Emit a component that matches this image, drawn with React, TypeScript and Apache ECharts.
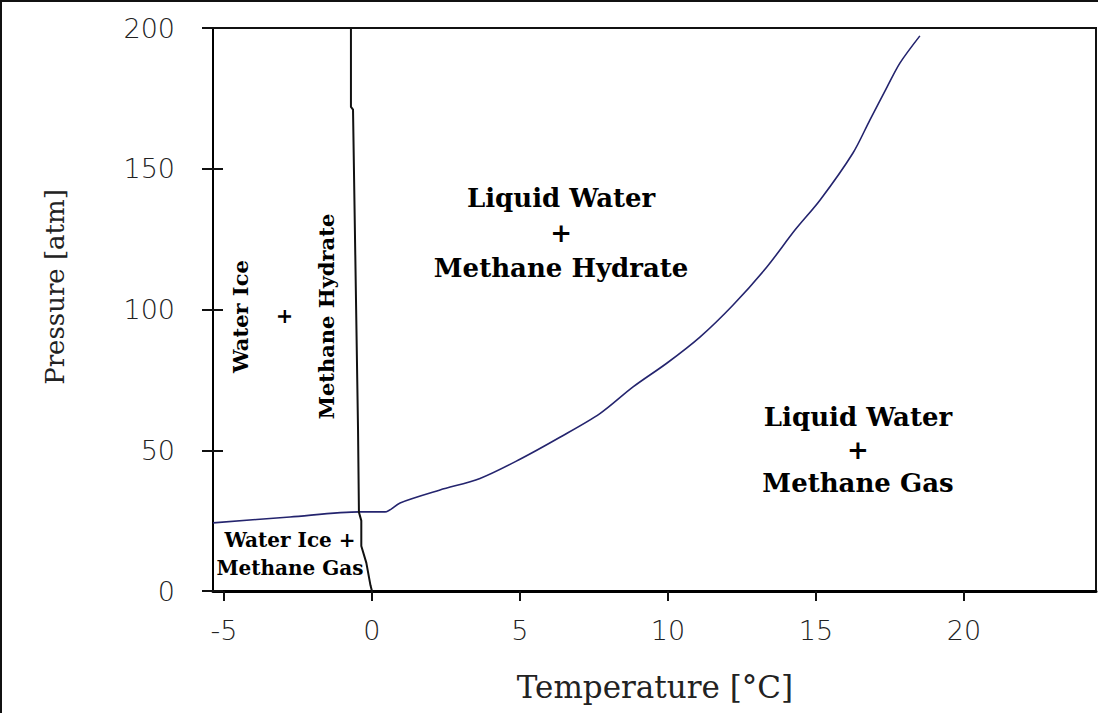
import React, { useEffect, useRef } from "react";
import * as echarts from "echarts";

// Axis ranges and ticks
const xMin = -5.37;
const xMax = 24.46;
const yMin = 0;
const yMax = 200;
const xTickValues = [-5, 0, 5, 10, 15, 20];
const yTickValues = [0, 50, 100, 150, 200];

// Hydrate stability boundary (blue curve)
const hydrateTemp = [-5.37, -2.77, -0.41, 0.44, 0.95, 2.3, 3.65, 5.0, 6.35, 7.7, 8.82, 9.97, 11.08, 12.2, 13.34, 14.29, 15.14, 16.25, 16.82, 17.4, 17.84, 18.51];
const hydratePressure = [24.2, 26.3, 28.1, 28.1, 31.3, 35.9, 40.0, 46.8, 54.6, 63.0, 72.5, 81.0, 90.2, 101.6, 115.1, 128.2, 138.9, 155.6, 167.3, 179.0, 187.6, 197.2];

// Ice melting boundary (black line)
const iceTemp = [-0.71, -0.71, -0.64, -0.47, -0.44, -0.36, -0.36, -0.19, -0.05, 0];
const icePressure = [200, 172, 171, 57, 28, 25, 16, 10, 2, 0];

// Region annotations
const regionLabels = ["Liquid Water\n+\nMethane Hydrate", "Liquid Water\n+\nMethane Gas", "Water Ice\n+\nMethane Hydrate", "Water Ice +\nMethane Gas"];
const regionTemp = [6.39, 16.42, -3.0, -2.77];
const regionPressure = [127.2, 50.1, 97.5, 13.1];

export default function App() {
  const ref = useRef<HTMLDivElement>(null);
  useEffect(() => {
    document.body.style.margin = "0";
    document.body.style.overflow = "hidden";
    const chart = echarts.init(ref.current!, null, { renderer: "svg" });
    const serifBold = "'DejaVu Serif', 'Liberation Serif', serif";
    const labelStyles = [
      { fontSize: 26, lineHeight: 35, rotate: 0 },
      { fontSize: 26, lineHeight: 33, rotate: 0 },
      { fontSize: 21, lineHeight: 43, rotate: 90 },
      { fontSize: 20, lineHeight: 28, rotate: 0 },
    ];
    chart.setOption({
      animation: false,
      backgroundColor: "#ffffff",
      grid: {
        left: 213,
        top: 28,
        right: 2,
        bottom: 122,
        show: true,
        borderColor: "#111",
        borderWidth: 2,
      },
      xAxis: {
        type: "value",
        min: xMin,
        max: xMax,
        splitLine: { show: false },
        axisLine: { show: true, onZero: false, lineStyle: { color: "#000", width: 3 } },
        axisTick: { show: true, length: 10, customValues: xTickValues, lineStyle: { color: "#111", width: 2 } },
        axisLabel: {
          customValues: xTickValues,
          margin: 26,
          fontSize: 27,
          fontFamily: "'DejaVu Sans', sans-serif",
          fontWeight: 200,
          color: "#222",
        },
      },
      yAxis: [
        {
          type: "value",
          min: yMin,
          max: yMax,
          interval: 50,
          splitLine: { show: false },
          axisLine: { show: true, onZero: false, lineStyle: { color: "#000", width: 2 } },
          axisTick: { show: true, length: 11, customValues: yTickValues, lineStyle: { color: "#111", width: 2 } },
          axisLabel: {
            customValues: yTickValues,
            margin: 38,
            fontSize: 27,
            fontFamily: "'DejaVu Sans', sans-serif",
            fontWeight: 200,
            color: "#222",
          },
        },
        {
          type: "value",
          min: yMin,
          max: yMax,
          interval: 50,
          position: "left",
          splitLine: { show: false },
          axisLine: { show: false, onZero: false },
          axisTick: { show: true, inside: true, length: 10, customValues: yTickValues, lineStyle: { color: "#111", width: 2 } },
          axisLabel: { show: false },
        },
      ],
      graphic: [
        {
          type: "polyline",
          shape: { points: [[1, 713], [1, 1], [1098, 1]] },
          style: { stroke: "#111", lineWidth: 2, fill: "none" },
          silent: true,
        },
        {
          type: "text",
          x: 55,
          y: 287,
          rotation: Math.PI / 2,
          style: {
            text: "Pressure [atm]",
            fontSize: 26,
            fontFamily: "'DejaVu Serif', serif",
            fill: "#222",
            align: "center",
            verticalAlign: "middle",
          },
          silent: true,
        },
        {
          type: "text",
          x: 655,
          y: 687,
          style: {
            text: "Temperature [°C]",
            fontSize: 31,
            fontFamily: "'DejaVu Serif', serif",
            fill: "#222",
            align: "center",
            verticalAlign: "middle",
          },
          silent: true,
        },
      ],
      series: [
        {
          type: "line",
          name: "Hydrate boundary",
          data: hydrateTemp.map((t, i) => [t, hydratePressure[i]]),
          showSymbol: false,
          symbol: "none",
          smooth: 0.3,
          lineStyle: { color: "#24246e", width: 1.6 },
          z: 2,
          silent: true,
        },
        {
          type: "line",
          name: "Ice boundary",
          data: iceTemp.map((t, i) => [t, icePressure[i]]),
          showSymbol: false,
          symbol: "none",
          lineStyle: { color: "#111", width: 2 },
          z: 3,
          silent: true,
        },
        {
          type: "scatter",
          name: "Regions",
          symbolSize: 1,
          itemStyle: { color: "rgba(0,0,0,0)" },
          silent: true,
          z: 4,
          data: regionLabels.map((txt, i) => ({
            value: [regionTemp[i], regionPressure[i]],
            label: {
              show: true,
              position: "inside",
              formatter: txt,
              rotate: labelStyles[i].rotate,
              fontSize: labelStyles[i].fontSize,
              lineHeight: labelStyles[i].lineHeight,
              fontFamily: serifBold,
              fontWeight: "bold",
              color: "#000",
              opacity: 1,
              textBorderWidth: 0,
              align: "center",
              verticalAlign: "middle",
            },
          })),
        },
      ],
    });
    return () => chart.dispose();
  }, []);
  return <div ref={ref} style={{ width: 1098, height: 713 }} />;
}
